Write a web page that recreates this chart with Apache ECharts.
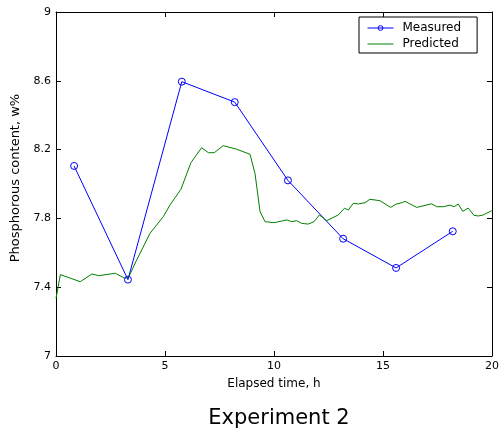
<!DOCTYPE html>
<html><head><meta charset="utf-8">
<script src="https://cdn.jsdelivr.net/npm/echarts@6/dist/echarts.min.js"></script>
<style>html,body{margin:0;padding:0;background:#fff}#c{width:502px;height:439px}</style>
</head><body><div id="c"></div>
<script>
const measuredX = [0.83, 3.3, 5.77, 8.2, 10.64, 13.17, 15.6, 18.2];
const measuredY = [8.105, 7.444, 8.595, 8.476, 8.021, 7.682, 7.512, 7.725];
const predictedX = [0, 0.2, 1.11, 1.65, 1.96, 2.72, 3.15, 3.33, 3.7, 4.31, 4.92, 5.23, 5.73, 6.19, 6.68, 6.99, 7.26, 7.67, 8.29, 8.9, 9.13, 9.36, 9.59, 10.01, 10.58, 10.81, 11.04, 11.27, 11.57, 11.84, 12.08, 12.42, 12.95, 13.23, 13.41, 13.64, 13.87, 14.17, 14.4, 14.86, 15.35, 15.6, 15.86, 16.01, 16.55, 17.23, 17.46, 17.77, 18.07, 18.26, 18.45, 18.66, 18.91, 19.17, 19.37, 19.6, 19.99];
const predictedY = [7.335, 7.473, 7.432, 7.477, 7.467, 7.481, 7.452, 7.458, 7.558, 7.713, 7.81, 7.878, 7.969, 8.124, 8.211, 8.182, 8.182, 8.223, 8.202, 8.173, 8.06, 7.839, 7.781, 7.775, 7.791, 7.781, 7.787, 7.771, 7.767, 7.781, 7.82, 7.787, 7.82, 7.859, 7.849, 7.888, 7.884, 7.891, 7.911, 7.903, 7.864, 7.883, 7.891, 7.899, 7.864, 7.885, 7.868, 7.868, 7.877, 7.868, 7.883, 7.841, 7.86, 7.818, 7.814, 7.82, 7.845];
const xTicks = [0, 5, 10, 15, 20];
const yTicks = ['7', '7.4', '7.8', '8.2', '8.6', '9'];
const titleText = 'Experiment 2';
const xName = 'Elapsed time, h';
const yName = 'Phosphorous content, w%';

const FONT = '"DejaVu Sans", "Liberation Sans", Arial, sans-serif';
const chart = echarts.init(document.getElementById('c'), null, {renderer: 'canvas'});
const axisCommon = {
  axisLine: {show: true, onZero: false, lineStyle: {color: '#000', width: 1}},
  axisTick: {show: true, inside: true, length: 5, lineStyle: {color: '#000'}},
  splitLine: {show: false}
};
const ring = {color: 'rgba(255,255,255,0)', borderColor: '#0000ff', borderWidth: 1};
chart.setOption({
  animation: false,
  backgroundColor: '#fff',
  title: {text: titleText, left: 274, top: 403, textAlign: 'center',
    textStyle: {fontFamily: FONT, fontSize: 21, fontWeight: 'normal', color: '#000'}},
  grid: {left: 56, right: 10, top: 12, bottom: 83},
  legend: {
    orient: 'vertical', left: 359, top: 17,
    padding: [4, 16, 2, 8], itemGap: 2, itemWidth: 26, itemHeight: 6,
    borderColor: '#000', borderWidth: 1, backgroundColor: '#fff',
    textStyle: {fontFamily: FONT, fontSize: 12, color: '#000', padding: [0, 0, 0, 4], lineHeight: 14},
    data: [
      {name: 'Measured', lineStyle: {width: 1, color: '#0000ff'}, itemStyle: ring},
      {name: 'Predicted', icon: 'path://M0,0H26V1H0Z', itemStyle: {color: '#008000'}}
    ]
  },
  xAxis: [
    Object.assign({type: 'value', min: 0, max: 20, interval: 5, position: 'bottom',
      name: xName, nameLocation: 'middle', nameGap: 22,
      nameTextStyle: {fontFamily: FONT, fontSize: 12, color: '#000'},
      axisLabel: {color: '#000', fontFamily: FONT, fontSize: 11, margin: 5,
        formatter: v => xTicks.includes(v) ? String(v) : ''}}, axisCommon),
    Object.assign({type: 'value', min: 0, max: 20, interval: 5, position: 'top',
      axisLabel: {show: false}}, axisCommon)
  ],
  yAxis: [
    Object.assign({type: 'value', min: 7, max: 9, interval: 0.4, position: 'left',
      name: yName, nameLocation: 'middle', nameGap: 30, nameRotate: 90,
      nameTextStyle: {fontFamily: FONT, fontSize: 13, color: '#000', padding: [0, 0, 0, 12]},
      axisLabel: {color: '#000', fontFamily: FONT, fontSize: 11, margin: 5,
        formatter: v => { const s = (Math.round(v * 10) / 10).toString(); return yTicks.includes(s) ? s : ''; }}}, axisCommon),
    Object.assign({type: 'value', min: 7, max: 9, interval: 0.4, position: 'right',
      axisLabel: {show: false}}, axisCommon)
  ],
  series: [
    {name: 'Measured', type: 'line', data: measuredX.map((x, i) => [x, measuredY[i]]),
      symbol: 'circle', symbolSize: 7, color: '#0000ff',
      lineStyle: {color: '#0000ff', width: 1}, itemStyle: ring},
    {name: 'Predicted', type: 'line', data: predictedX.map((x, i) => [x, predictedY[i]]),
      symbol: 'none', showSymbol: false, color: '#008000',
      lineStyle: {color: '#008000', width: 1}}
  ]
});
</script></body></html>
